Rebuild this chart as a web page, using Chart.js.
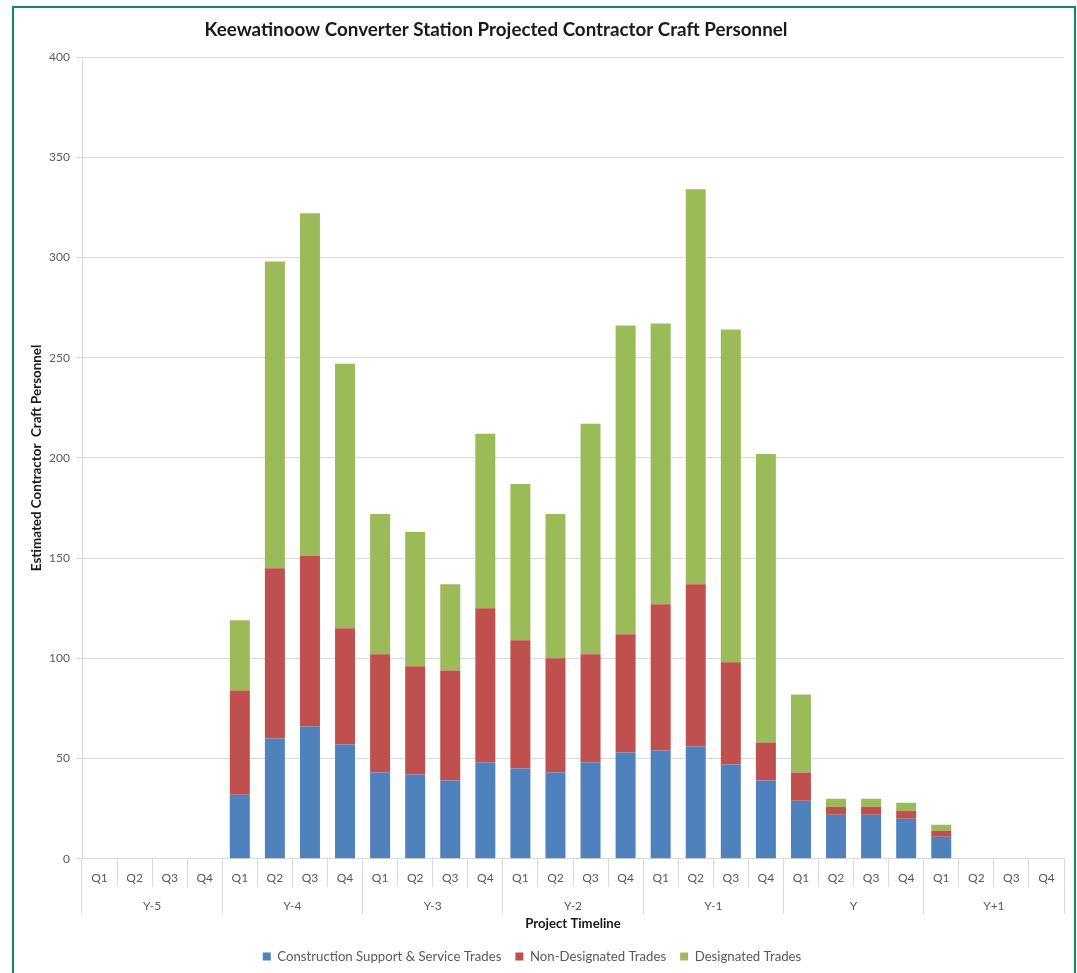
<!DOCTYPE html>
<html><head><meta charset="utf-8">
<script src="https://cdn.jsdelivr.net/npm/chart.js@4.4.1/dist/chart.umd.min.js"></script>
<style>
html,body{margin:0;padding:0;background:#fff;}
#wrap{position:relative;width:1077px;height:973px;overflow:hidden;background:#fff;}
#frame{position:absolute;left:12px;top:6px;width:1064px;height:1000px;border:2.5px solid #0e8a60;box-sizing:border-box;pointer-events:none;}
canvas{position:absolute;left:0;top:0;}
</style></head><body>
<div id="wrap"><canvas id="c" width="1077" height="973"></canvas><div id="frame"></div></div>
<script>
const chartTitle = 'Keewatinoow Converter Station Projected Contractor Craft Personnel';
const quarterLabels = ['Q1','Q2','Q3','Q4','Q1','Q2','Q3','Q4','Q1','Q2','Q3','Q4','Q1','Q2','Q3','Q4','Q1','Q2','Q3','Q4','Q1','Q2','Q3','Q4','Q1','Q2','Q3','Q4'];
const yearLabels = ['Y-5','Y-4','Y-3','Y-2','Y-1','Y','Y+1'];
const supportTrades =       [0,0,0,0, 32,60,66,57, 43,42,39,48, 45,43,48,53, 54,56,47,39, 29,22,22,20, 11,0,0,0];
const nonDesignatedTrades = [0,0,0,0, 52,85,85,58, 59,54,55,77, 64,57,54,59, 73,81,51,19, 14,4,4,4, 3,0,0,0];
const designatedTrades =    [0,0,0,0, 35,153,171,132, 70,67,43,87, 78,72,115,154, 140,197,166,144, 39,4,4,4, 3,0,0,0];
const yTicks = [0,50,100,150,200,250,300,350,400];

const FONT = 'Lato, "Open Sans", sans-serif';
const TXT = '#595959';
const GRID = '#d9d9d9';

const titlePlugin = {
  id: 'fixedTitle',
  afterDraw(chart) {
    const ctx = chart.ctx;
    ctx.save();
    ctx.font = 'bold 18.8px ' + FONT;
    ctx.fillStyle = '#1a1a1a';
    ctx.textAlign = 'center';
    ctx.textBaseline = 'middle';
    ctx.fillText(chartTitle, 496, 30);
    ctx.restore();
  }
};

new Chart(document.getElementById('c'), {
  type: 'bar',
  data: {
    labels: quarterLabels,
    datasets: [
      {label: 'Construction Support & Service Trades', data: supportTrades, backgroundColor: '#4F81BD'},
      {label: 'Non-Designated Trades', data: nonDesignatedTrades, backgroundColor: '#C0504D'},
      {label: 'Designated Trades', data: designatedTrades, backgroundColor: '#9BBB59'}
    ]
  },
  plugins: [titlePlugin],
  options: {
    responsive: false,
    animation: false,
    devicePixelRatio: 1,
    layout: {padding: {top: 57, right: 13, left: 0, bottom: 0}},
    datasets: {bar: {barPercentage: 0.57, categoryPercentage: 1.0, borderWidth: 0}},
    plugins: {
      title: {display: false},
      tooltip: {enabled: false},
      legend: {
        position: 'bottom',
        labels: {boxWidth: 8, boxHeight: 8, padding: 14, color: TXT, font: {family: FONT, size: 13.2}}
      }
    },
    scales: {
      x: {
        stacked: true,
        weight: 0,
        grid: {offset: true, drawOnChartArea: false, tickLength: 28, color: GRID},
        border: {display: true, color: GRID},
        ticks: {padding: -16, color: TXT, font: {family: FONT, size: 12}, maxRotation: 0, autoSkip: false},
        afterFit(s) { s.height = 28; }
      },
      x2: {
        type: 'category',
        labels: yearLabels,
        position: 'bottom',
        offset: true,
        weight: 1,
        grid: {offset: true, drawOnChartArea: false, tickLength: 27, color: GRID},
        border: {display: false},
        ticks: {padding: -15, color: TXT, font: {family: FONT, size: 12}, maxRotation: 0, autoSkip: false},
        title: {display: true, text: 'Project Timeline', color: '#1a1a1a', font: {family: FONT, size: 13.2, weight: 'bold'}, padding: {top: 0, bottom: 4}},
        afterFit(s) { s.height = 49; }
      },
      y: {
        stacked: true,
        min: 0,
        max: 400,
        afterBuildTicks(s) { s.ticks = yTicks.map(v => ({value: v})); },
        grid: {color: GRID, tickLength: 6},
        border: {display: true, color: GRID},
        ticks: {padding: 6, color: TXT, font: {family: FONT, size: 12}},
        title: {display: true, text: 'Estimated Contractor  Craft Personnel', color: '#1a1a1a', font: {family: FONT, size: 13.4, weight: 'bold'}, padding: {top: 29, bottom: 0}},
        afterFit(s) { s.width = 82; }
      }
    }
  }
});
</script>
</body></html>
